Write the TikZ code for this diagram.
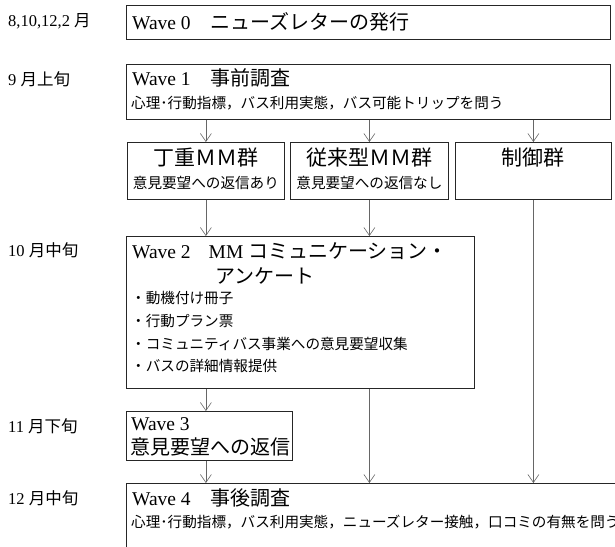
\documentclass[tikz,border=0pt]{standalone}
\usepackage{fontspec}
\setmainfont{Liberation Serif}
\newfontfamily\jp{Noto Sans CJK JP}
\usetikzlibrary{arrows.meta}
\tikzset{
  box/.style={draw=black!85, line width=0.8pt, inner sep=0pt, anchor=north west},
  arr/.style={draw=black!60, line width=0.6pt, -{Straight Barb[length=8pt,width=11pt]}},
  txt/.style={inner sep=0pt, anchor=west},
  ctr/.style={inner sep=0pt},
  lat/.style={font=\fontsize{19.5}{22}\selectfont},
  head/.style={font=\jp\fontsize{20}{22}\selectfont},
  ghead/.style={font=\jp\fontsize{21}{23}\selectfont},
  sub/.style={font=\jp\fontsize{14.6}{16}\selectfont},
  mon/.style={inner sep=0pt, anchor=west, font=\fontsize{16.5}{18}\selectfont},
}
\begin{document}
\begin{tikzpicture}[x=1pt,y=-1pt]
\useasboundingbox (0,0) rectangle (615,546);
\clip (0,0) rectangle (615,546);
% month labels
\node[mon] (m0) at (8,21) {8,10,12,2 {\jp 月}};
\node[mon] (m1) at (8,79) {9 {\jp 月上旬}};
\node[mon] (m2) at (8,250) {10 {\jp 月中旬}};
\node[mon] (m3) at (8,426) {11 {\jp 月下旬}};
\node[mon] (m4) at (8,498) {12 {\jp 月中旬}};
% Wave 0
\node[box, minimum width=484, minimum height=34] (w0) at (126,5) {};
\node[txt, lat] (w0t) at (132,22) {Wave 0\hspace{20pt}{\jp\fontsize{20}{22}\selectfont ニューズレターの発行}};
% Wave 1
\node[box, minimum width=484, minimum height=55] (w1) at (126,64) {};
\node[txt, lat] (w1t) at (132,78) {Wave 1\hspace{20pt}{\jp\fontsize{20}{22}\selectfont 事前調査}};
\node[txt, sub] (w1s) at (131,103) {心理･行動指標，バス利用実態，バス可能トリップを問う};
% groups
\node[box, minimum width=157, minimum height=57] (g1) at (127,142) {};
\node[box, minimum width=158, minimum height=57] (g2) at (290,142) {};
\node[box, minimum width=156, minimum height=57] (g3) at (455,142) {};
\node[ctr, ghead, yshift=-16pt] (g1t) at (g1.north) {丁重ＭＭ群};
\node[ctr, sub, yshift=-41pt] (g1s) at (g1.north) {意見要望への返信あり};
\node[ctr, ghead, yshift=-16pt] (g2t) at (g2.north) {従来型ＭＭ群};
\node[ctr, sub, yshift=-41pt] (g2s) at (g2.north) {意見要望への返信なし};
\node[ctr, ghead, yshift=-16pt] (g3t) at (g3.north) {制御群};
% Wave 2
\node[box, minimum width=348, minimum height=152] (w2) at (126,236) {};
\node[txt, lat] (w2t) at (132,251) {Wave 2\hspace{18pt}MM {\jp\fontsize{20}{22}\selectfont コミュニケーション・}};
\node[txt, head] (w2u) at (215,276) {アンケート};
\node[txt, sub] (w2a) at (131,298) {・動機付け冊子};
\node[txt, sub] (w2b) at (131,321) {・行動プラン票};
\node[txt, sub] (w2c) at (131,344) {・コミュニティバス事業への意見要望収集};
\node[txt, sub] (w2d) at (131,366) {・バスの詳細情報提供};
% Wave 3
\node[box, minimum width=166, minimum height=49] (w3) at (126,411) {};
\node[txt, lat] (w3t) at (131,424) {Wave 3};
\node[txt, head] (w3u) at (130,447) {意見要望への返信};
% Wave 4
\node[box, minimum width=520, minimum height=90] (w4) at (126,483) {};
\node[txt, lat] (w4t) at (132,498) {Wave 4\hspace{20pt}{\jp\fontsize{20}{22}\selectfont 事後調査}};
\node[txt, sub] (w4s) at (131,522) {心理･行動指標，バス利用実態，ニューズレター接触，口コミの有無を問う};
% connectors
\draw[arr] (w1.south -| g1.north) -- (g1.north);
\draw[arr] (w1.south -| g2.north) -- (g2.north);
\draw[arr] (w1.south -| g3.north) -- (g3.north);
\draw[arr] (g1.south) -- (g1.south |- w2.north);
\draw[arr] (g2.south) -- (g2.south |- w2.north);
\draw[arr] (g3.south) -- (g3.south |- w4.north);
\draw[arr] (w2.south -| g1.south) -- (g1.south |- w3.north);
\draw[arr] (w2.south -| g2.south) -- (g2.south |- w4.north);
\draw[arr] (w3.south -| g1.south) -- (g1.south |- w4.north);
\end{tikzpicture}
\end{document}
